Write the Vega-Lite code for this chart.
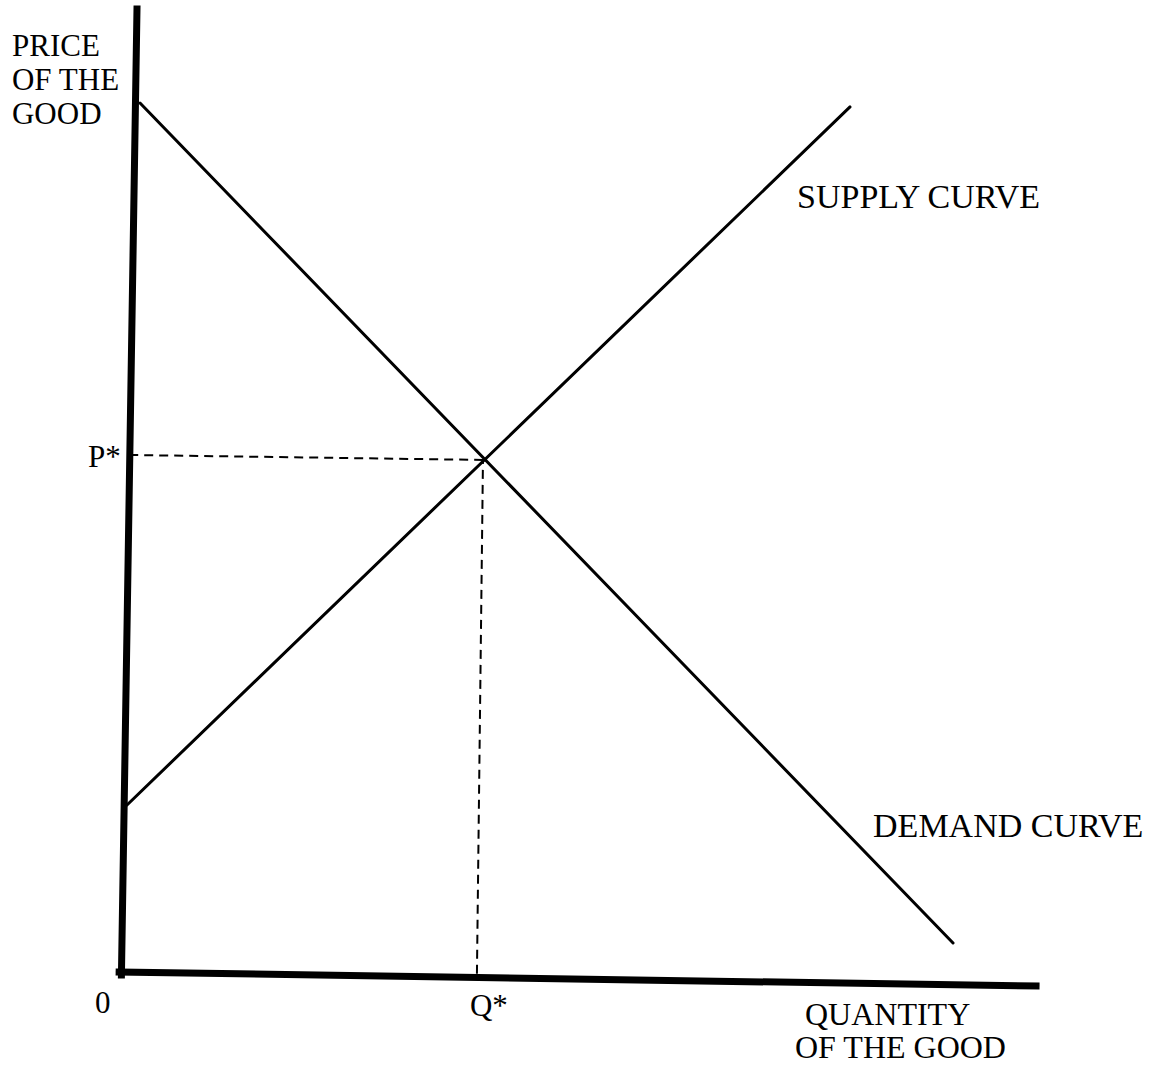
{
  "$schema": "https://vega.github.io/schema/vega-lite/v6.json",
  "width": 1156,
  "height": 1071,
  "padding": 0,
  "autosize": {"type": "none"},
  "background": "white",
  "config": {"view": {"stroke": null}},
  "datasets": {
    "axes": [
      {"id": "vertical", "q": 1.75, "p": 100.1},
      {"id": "vertical", "q": 0.05, "p": -0.52},
      {"id": "horizontal", "q": -0.2, "p": -0.21},
      {"id": "horizontal", "q": 100, "p": -1.67}
    ],
    "curves": [
      {"id": "demand", "q": 2.08, "p": 90.31},
      {"id": "demand", "q": 90.93, "p": 2.81},
      {"id": "supply", "q": 0.66, "p": 17.19},
      {"id": "supply", "q": 79.67, "p": 89.9}
    ],
    "guides": [
      {"id": "pstar", "q": 0.9, "p": 53.65},
      {"id": "pstar", "q": 39.56, "p": 53.13},
      {"id": "qstar", "q": 39.56, "p": 53.13},
      {"id": "qstar", "q": 38.9, "p": -0.4}
    ],
    "axisLabels": [
      {"text": "PRICE", "q": -11.91, "p": 95.2},
      {"text": "OF THE", "q": -11.91, "p": 91.67},
      {"text": "GOOD", "q": -11.91, "p": 88.13},
      {"text": "P*", "q": -3.61, "p": 52.4},
      {"text": "0", "q": -2.84, "p": -4.48},
      {"text": "Q*", "q": 38.14, "p": -4.8}
    ],
    "bottomLabels": [
      {"text": "QUANTITY", "q": 74.75, "p": -5.73},
      {"text": "OF THE GOOD", "q": 73.66, "p": -9.17}
    ],
    "curveLabels": [
      {"text": "SUPPLY CURVE", "q": 73.88, "p": 79.38},
      {"text": "DEMAND CURVE", "q": 82.19, "p": 13.85}
    ]
  },
  "encoding": {
    "x": {"field": "q", "type": "quantitative", "axis": null,
          "scale": {"domain": [-13.22, 113.11], "nice": false, "zero": false}},
    "y": {"field": "p", "type": "quantitative", "axis": null,
          "scale": {"domain": [-10.52, 101.04], "nice": false, "zero": false}}
  },
  "layer": [
    {
      "data": {"name": "axes"},
      "mark": {"type": "line", "color": "black", "strokeWidth": 7, "strokeCap": "square"},
      "encoding": {"detail": {"field": "id"}}
    },
    {
      "data": {"name": "curves"},
      "mark": {"type": "line", "color": "black", "strokeWidth": 3, "strokeCap": "round"},
      "encoding": {"detail": {"field": "id"}}
    },
    {
      "data": {"name": "guides"},
      "mark": {"type": "line", "color": "black", "strokeWidth": 2, "strokeDash": [9, 6]},
      "encoding": {"detail": {"field": "id"}}
    },
    {
      "data": {"name": "axisLabels"},
      "mark": {"type": "text", "font": "Liberation Serif", "fontSize": 31, "align": "left", "baseline": "alphabetic", "color": "black"},
      "encoding": {"text": {"field": "text"}}
    },
    {
      "data": {"name": "bottomLabels"},
      "mark": {"type": "text", "font": "Liberation Serif", "fontSize": 32, "align": "left", "baseline": "alphabetic", "color": "black"},
      "encoding": {"text": {"field": "text"}}
    },
    {
      "data": {"name": "curveLabels"},
      "mark": {"type": "text", "font": "Liberation Serif", "fontSize": 34, "align": "left", "baseline": "alphabetic", "color": "black"},
      "encoding": {"text": {"field": "text"}}
    }
  ]
}
